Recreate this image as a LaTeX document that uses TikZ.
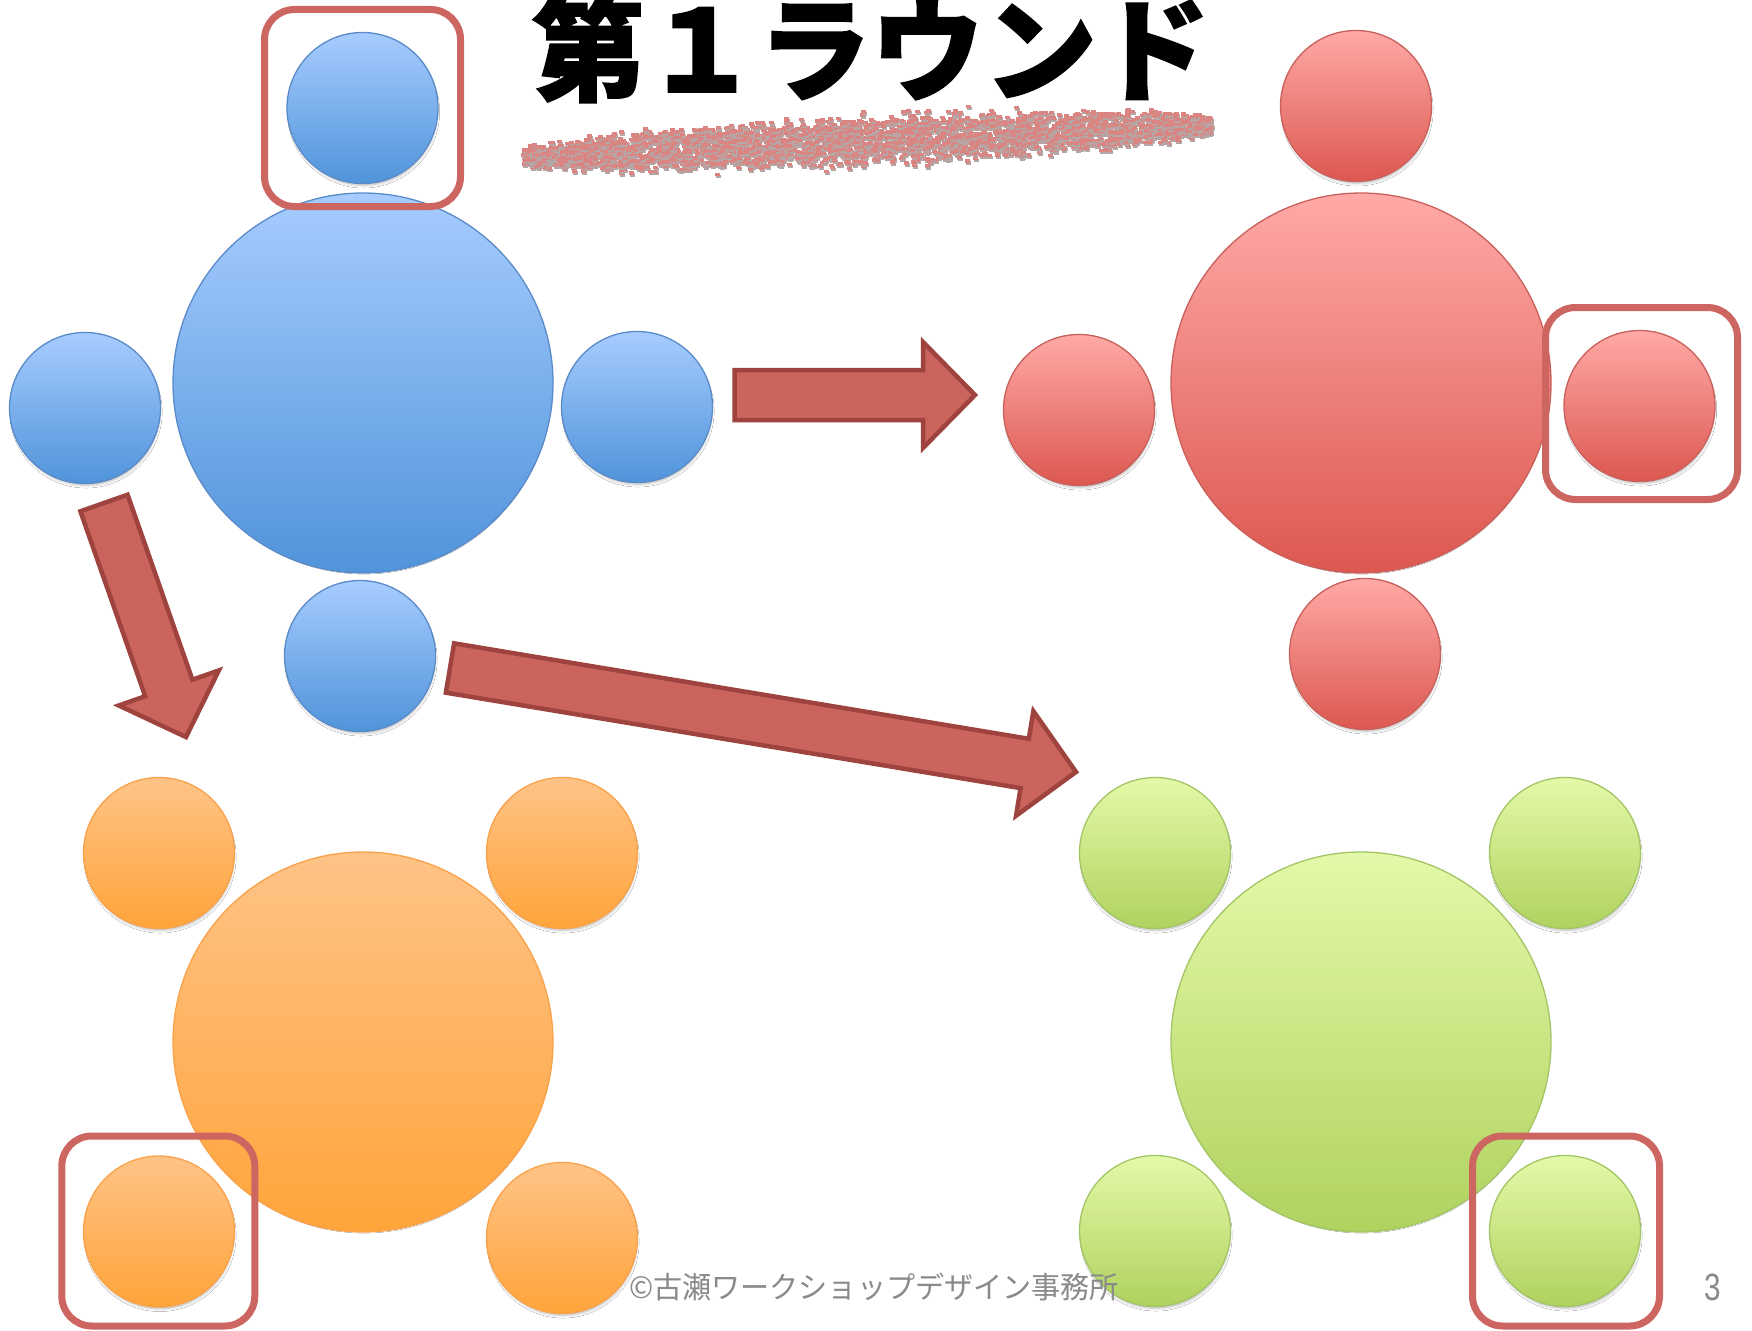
\documentclass[tikz,border=0pt]{standalone}
\usepackage{fontspec}
\setmainfont{Liberation Sans}
\newfontfamily\jpfont{Noto Sans CJK JP}
\newfontfamily\jptitle[FakeBold=1.5]{Noto Sans CJK JP}
\usetikzlibrary{shadows.blur}
\definecolor{bluetop}{HTML}{A7CCFF}
\definecolor{bluebot}{HTML}{5094DA}
\definecolor{blueline}{HTML}{5A8BC8}
\definecolor{redtop}{HTML}{FFA9A6}
\definecolor{redbot}{HTML}{DC5850}
\definecolor{redline}{HTML}{C9605B}
\definecolor{ortop}{HTML}{FFC387}
\definecolor{orbot}{HTML}{FFA43A}
\definecolor{orline}{HTML}{F9A24A}
\definecolor{grtop}{HTML}{E4F9A8}
\definecolor{grbot}{HTML}{AFD25F}
\definecolor{grline}{HTML}{A3C566}
\definecolor{arrfill}{HTML}{CC645E}
\definecolor{arrline}{HTML}{9E433E}
\definecolor{hilite}{HTML}{CD6560}
\definecolor{scrib}{HTML}{DA8581}
\definecolor{scribshade}{HTML}{B5A5A5}
\definecolor{foot}{HTML}{8A8A8A}
\tikzset{
  circ/.style={circle, inner sep=0pt, line width=1.3pt,
    blur shadow={shadow xshift=1pt, shadow yshift=-4pt, shadow scale=0.97, shadow blur radius=3pt, shadow opacity=30}},
  bigc/.style={circ, minimum size=380pt},
  smallc/.style={circ, minimum size=151pt},
  bluec/.style={top color=bluetop, bottom color=bluebot, draw=blueline},
  redc/.style={top color=redtop, bottom color=redbot, draw=redline},
  orc/.style={top color=ortop, bottom color=orbot, draw=orline},
  grc/.style={top color=grtop, bottom color=grbot, draw=grline},
  hibox/.style={draw=hilite, line width=7pt, rounded corners=30pt, inner sep=0pt},
  blockarrow/.style={fill=arrfill, draw=arrline, line width=4.5pt, line join=miter},
  pics/blockarr/.style={code={
    \draw[blockarrow] (0,-25) -- (#1-52,-25) -- (#1-52,-53) -- (#1,0)
      -- (#1-52,53) -- (#1-52,25) -- (0,25) -- cycle;}},
}
\begin{document}
\begin{tikzpicture}[x=1pt,y=-1pt]
\useasboundingbox[fill=white] (0,0) rectangle (1752,1330);

% blue table
\node[bigc,bluec] (Bc) at (363,383) {};
\node[smallc,bluec] (Bt) at (362.5,108) {};
\node[smallc,bluec] (Bl) at (85,408) {};
\node[smallc,bluec] (Br) at (637,407) {};
\node[smallc,bluec] (Bb) at (360,656) {};

% red table
\node[bigc,redc] (Rc) at (1361,383) {};
\node[smallc,redc] (Rt) at (1356,106) {};
\node[smallc,redc] (Rl) at (1079,410) {};
\node[smallc,redc] (Rr) at (1639.5,406) {};
\node[smallc,redc] (Rb) at (1365,654) {};

% orange table
\node[bigc,orc] (Oc) at (363,1042) {};
\node[smallc,orc] (Otl) at (159,853) {};
\node[smallc,orc] (Otr) at (562,853) {};
\node[smallc,orc] (Obl) at (159,1231.5) {};
\node[smallc,orc] (Obr) at (562,1238) {};

% green table
\node[bigc,grc] (Gc) at (1361,1042) {};
\node[smallc,grc] (Gtl) at (1155,853) {};
\node[smallc,grc] (Gtr) at (1565,853) {};
\node[smallc,grc] (Gbl) at (1155,1231) {};
\node[smallc,grc] (Gbr) at (1565,1231) {};

% highlight boxes
\node[hibox, minimum width=196pt, minimum height=197pt] (H1) at (362.5,108) {};
\node[hibox, minimum width=192pt, minimum height=192pt] (H2) at (1641.5,403.5) {};
\node[hibox, minimum width=193pt, minimum height=190pt] (H3) at (158.3,1231) {};
\node[hibox, minimum width=187pt, minimum height=190pt] (H4) at (1566,1231) {};

% block arrows
\pic (A1) at (734.5,395) {blockarr=240.5};
\pic[rotate=-70.69] (A2) at (104,503) {blockarr=248};
\pic[rotate=-9.43] (A3) at (450,668) {blockarr=634.6};

% scribble underline
\pgfmathsetseed{11}
\foreach \i in {1,...,3400}{
  \pgfmathsetmacro\t{rnd}
  \pgfmathsetmacro\w{0.6*(2*rnd-1)+0.4*(rnd+rnd-1)}
  \pgfmathsetmacro\xx{521+688*\t}
  \pgfmathsetmacro\tp{0.35+0.65*sin(180*\t)^0.6}
  \pgfmathsetmacro\yy{155-32*\t+31*\w*\tp}
  \fill[scribshade] (\xx+1,\yy+2) rectangle ++(5,3.5);
  \fill[scrib] (\xx,\yy) rectangle ++(5,3.5);
}

% title
\node[font=\jptitle\bfseries\fontsize{113}{113}\selectfont, anchor=base, inner sep=0pt] (title) at (871,92) {第１ラウンド};

% footer
\node[font=\jpfont\fontsize{30}{30}\selectfont, text=foot, xscale=0.97, transform shape, inner sep=0pt] (footer) at (874,1287) {©古瀬ワークショップデザイン事務所};
\node[font=\fontsize{38}{38}\selectfont, text=foot, xscale=0.78, transform shape, inner sep=0pt] (pagenum) at (1713,1287) {3};
\end{tikzpicture}
\end{document}
